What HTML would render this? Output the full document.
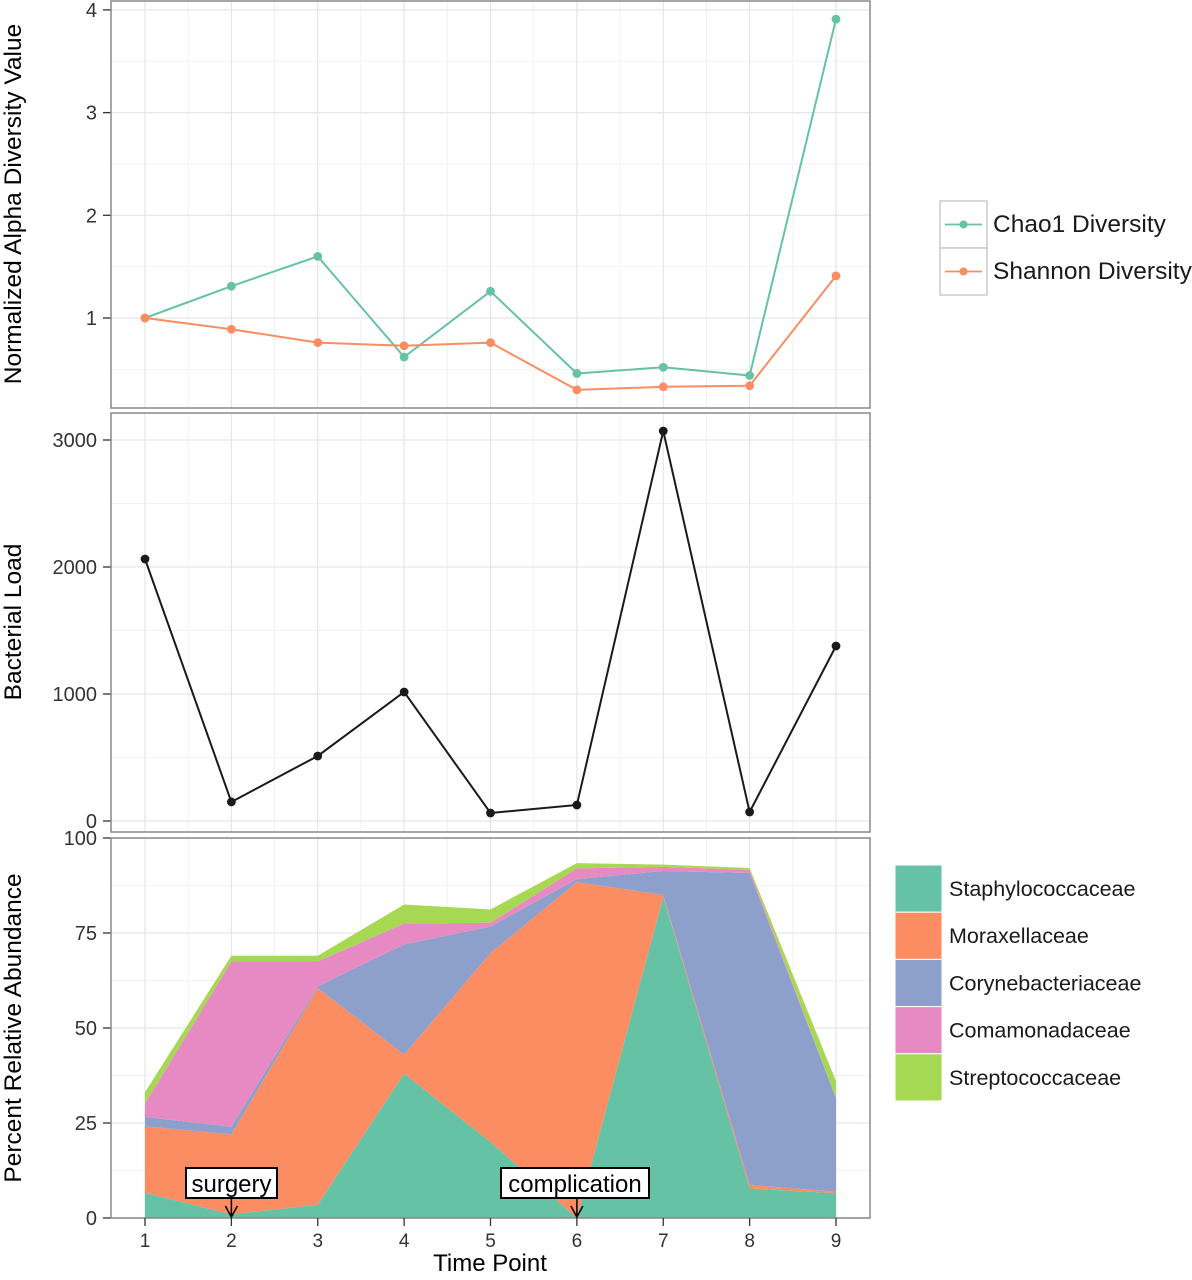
<!DOCTYPE html>
<html><head><meta charset="utf-8">
<style>
html,body{margin:0;padding:0;background:#fff;}
svg{display:block;font-family:"Liberation Sans",Arial,sans-serif;}
</style></head>
<body>
<svg id="chart" width="1192" height="1280" viewBox="0 0 1192 1280"></svg>
<script>
const timePoints = [1,2,3,4,5,6,7,8,9];
const chao1 = [1.0,1.31,1.6,0.62,1.26,0.46,0.52,0.44,3.91];
const shannon = [1.0,0.89,0.76,0.73,0.76,0.3,0.33,0.34,1.41];
const bacterialLoad = [2063,150,512,1016,63,126,3071,71,1378];
const families = ["Staphylococcaceae","Moraxellaceae","Corynebacteriaceae","Comamonadaceae","Streptococcaceae"];
const staph = [6.6,1,3.5,38,20,0,84.5,7.8,6.5];
const morax = [17.5,21,57,5,49.7,88.4,0.5,0.9,0.4];
const coryne = [2.5,2,0.5,29,7,0.8,6.3,82.1,24.6];
const comam = [3.5,43.5,6.5,5.5,1,2.8,1.1,0.8,0.1];
const strep = [3,1.5,1.5,5,3.5,1.4,0.6,0.5,4.4];
const alphaTicks = [1,2,3,4];
const loadTicks = [0,1000,2000,3000];
const abundTicks = [0,25,50,75,100];

const NS="http://www.w3.org/2000/svg";
const svg=document.getElementById('chart');
function el(tag,attrs,parent){const e=document.createElementNS(NS,tag);for(const k in attrs)e.setAttribute(k,attrs[k]);(parent||svg).appendChild(e);return e;}
const L=111,R=870;
const x=t=>145+(t-1)*(836-145)/8;
const yA=v=>318-(v-1)*102.7;
const yB=v=>821-v*0.127;
const yC=v=>1218-v*3.8;
const colors=["#66c2a5","#fc8d62","#8da0cb","#e78ac3","#a6d854"];

function panel(top,bot,ticks,yf,name,minor){
  const g=el('g',{});
  
  
  el('rect',{x:L,y:top,width:R-L,height:bot-top,fill:'#fff'},g);
  minor.forEach(v=>{const yy=yf(v);if(yy>top&&yy<bot)el('line',{x1:L,x2:R,y1:yy,y2:yy,stroke:'#f2f2f2','stroke-width':1},g);});
  for(let t=1.5;t<9;t++)el('line',{x1:x(t),x2:x(t),y1:top,y2:bot,stroke:'#f2f2f2','stroke-width':1},g);
  ticks.forEach(v=>{const yy=yf(v);el('line',{x1:L,x2:R,y1:yy,y2:yy,stroke:'#e6e6e6','stroke-width':1.2},g);
    el('line',{x1:L-8,x2:L,y1:yy,y2:yy,stroke:'#333','stroke-width':1.3},g);
    const tx=el('text',{x:97,y:yy+7,'text-anchor':'end','font-size':20,fill:'#333'},g);tx.textContent=v;
    
    });
  timePoints.forEach(t=>el('line',{x1:x(t),x2:x(t),y1:top,y2:bot,stroke:'#e6e6e6','stroke-width':1.2},g));
  return g;
}
function frame(top,bot){el('rect',{x:L,y:top,width:R-L,height:bot-top,fill:'none',stroke:'#888','stroke-width':1.5});}

panel(1,408,alphaTicks,yA,'alpha-diversity-panel',[0.5,1.5,2.5,3.5]);
[[chao1,colors[0],'chao1-line'],[shannon,colors[1],'shannon-line']].forEach(([d,c,n])=>{
  const p=el('polyline',{points:d.map((v,i)=>x(timePoints[i])+','+yA(v)).join(' '),fill:'none',stroke:c,'stroke-width':2});
  
  
  d.forEach((v,i)=>{const c2=el('circle',{cx:x(timePoints[i]),cy:yA(v),r:4.4,fill:c});
    
    });
});
frame(1,408);

panel(413,832,loadTicks,yB,'bacterial-load-panel',[500,1500,2500]);
{const p=el('polyline',{points:bacterialLoad.map((v,i)=>x(timePoints[i])+','+yB(v)).join(' '),fill:'none',stroke:'#1a1a1a','stroke-width':2});


bacterialLoad.forEach((v,i)=>{const c=el('circle',{cx:x(timePoints[i]),cy:yB(v),r:4.4,fill:'#1a1a1a'});
  
  });}
frame(413,832);

panel(838,1218,abundTicks,yC,'abundance-panel',[12.5,37.5,62.5,87.5]);
const series=[staph,morax,coryne,comam,strep];
let base=timePoints.map(()=>0);
series.forEach((s,k)=>{
  const topv=base.map((b,i)=>b+s[i]);
  const pts=topv.map((v,i)=>x(timePoints[i])+','+yC(v)).concat(base.map((v,i)=>x(timePoints[i])+','+yC(v)).reverse());
  const p=el('polygon',{points:pts.join(' '),fill:colors[k]});
  
  
  base=topv;
});
frame(838,1218);
timePoints.forEach(t=>{el('line',{x1:x(t),x2:x(t),y1:1218,y2:1226,stroke:'#333','stroke-width':1.3});
  const tx=el('text',{x:x(t),y:1247,'text-anchor':'middle','font-size':19,fill:'#333'});tx.textContent=t;
  
  });

function annot(t,label,bx,bw,name){
  const g=el('g',{});
  
  
  el('line',{x1:x(t),x2:x(t),y1:1198,y2:1217,stroke:'#000','stroke-width':1.5},g);
  el('polyline',{points:(x(t)-6)+',1206 '+x(t)+',1217 '+(x(t)+6)+',1206',fill:'none',stroke:'#000','stroke-width':1.5},g);
  el('rect',{x:bx,y:1168,width:bw,height:30,fill:'#fff',stroke:'#000','stroke-width':2},g);
  const tx=el('text',{x:bx+bw/2,y:1192,'text-anchor':'middle','font-size':24,fill:'#000'},g);tx.textContent=label;
}
annot(2,'surgery',186,91,'surgery-annotation');
annot(6,'complication',501,148,'complication-annotation');

function txt(s,x0,y0,size,rot,name){const t=el('text',{x:x0,y:y0,'text-anchor':'middle','font-size':size,fill:'#000'});
  if(rot)t.setAttribute('transform','rotate(-90 '+x0+' '+y0+')');t.textContent=s;
  
  }
txt('Normalized Alpha Diversity Value',21,204,24.5,true,'alpha-y-axis-title');
txt('Bacterial Load',21,622,24.5,true,'load-y-axis-title');
txt('Percent Relative Abundance',21,1028,24.5,true,'abundance-y-axis-title');
txt('Time Point',490,1271,24,false,'x-axis-title');

[['Chao1 Diversity',colors[0]],['Shannon Diversity',colors[1]]].forEach(([n,c],i)=>{
  const g=el('g',{});
  
  
  const y0=201+i*47;
  el('rect',{x:940,y:y0,width:47,height:47,fill:'#fff',stroke:'#ccc','stroke-width':1.5},g);
  el('line',{x1:945,x2:982,y1:y0+23.5,y2:y0+23.5,stroke:c,'stroke-width':1.8},g);
  el('circle',{cx:963.5,cy:y0+23.5,r:4,fill:c},g);
  const t=el('text',{x:993,y:y0+31,'font-size':24.5,fill:'#1a1a1a'},g);t.textContent=n;
});
families.forEach((n,i)=>{
  const g=el('g',{});
  
  
  const y0=865+i*47.2;
  el('rect',{x:895,y:y0,width:47,height:47.2,fill:colors[i],stroke:'#fff','stroke-width':1},g);
  const t=el('text',{x:949,y:y0+31,'font-size':21.5,fill:'#1a1a1a'},g);t.textContent=n;
});
</script>
</body></html>
